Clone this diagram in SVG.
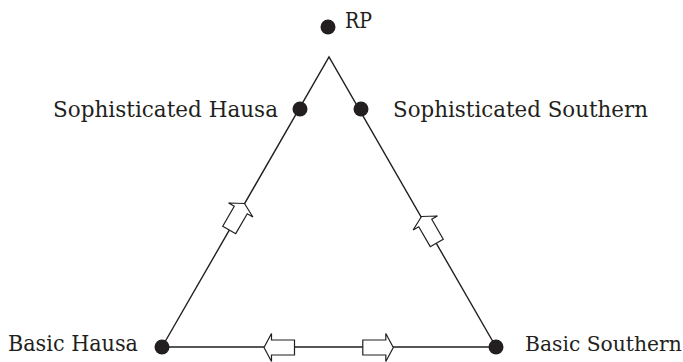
<svg xmlns="http://www.w3.org/2000/svg" width="683" height="362" viewBox="0 0 683 362">
<defs>
<style>
.lbl{font-family:"DejaVu Serif","Liberation Serif",serif;font-size:21.5px;fill:#231f20}
.sm{font-size:20.3px}
.edge{stroke:#231f20;stroke-width:1.4;fill:none}
.dot{fill:#231f20}
.arr{fill:#fff;stroke:#231f20;stroke-width:1.2;stroke-linejoin:miter}
</style>
<path id="blk" d="M0,0 L-7.5,-14 L-7.5,-7.5 L-30.5,-7.5 L-30.5,7.5 L-7.5,7.5 L-7.5,14 Z"/>
</defs>
<rect width="683" height="362" fill="#fff"/>
<g id="connectors">
<path class="edge" d="M162,347 L329,57 L496,347 Z"/>
<use href="#blk" class="arr" transform="translate(244.5,203.5) rotate(-60)"/>
<use href="#blk" class="arr" transform="translate(421.5,216.5) rotate(-120)"/>
<use href="#blk" class="arr" transform="translate(264,347.5) rotate(180)"/>
<use href="#blk" class="arr" transform="translate(393.3,347.5)"/>
</g>
<g id="rp"><circle class="dot" cx="328" cy="27" r="7.5"/><text class="lbl" x="345" y="28" textLength="27" lengthAdjust="spacingAndGlyphs">RP</text></g>
<g id="soph-hausa"><circle class="dot" cx="300" cy="109" r="7.5"/><text class="lbl" x="53" y="117" textLength="225" lengthAdjust="spacingAndGlyphs">Sophisticated Hausa</text></g>
<g id="soph-southern"><circle class="dot" cx="361" cy="109" r="7.5"/><text class="lbl" x="393" y="117" textLength="255" lengthAdjust="spacingAndGlyphs">Sophisticated Southern</text></g>
<g id="basic-hausa"><circle class="dot" cx="162" cy="347" r="7.5"/><text class="lbl" x="8" y="351" textLength="130" lengthAdjust="spacingAndGlyphs">Basic Hausa</text></g>
<g id="basic-southern"><circle class="dot" cx="496" cy="347" r="7.5"/><text class="lbl sm" x="525" y="351">Basic Southern</text></g>
</svg>
